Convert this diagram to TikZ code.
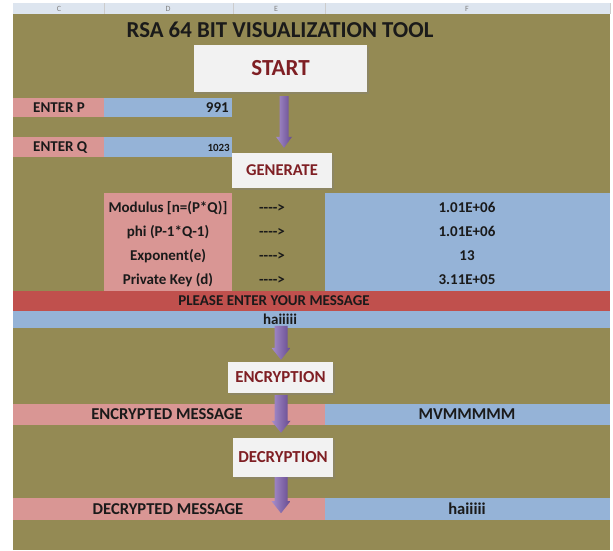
\documentclass[tikz,border=0pt]{standalone}
\usepackage{fontspec}
\setmainfont{Carlito}
\usetikzlibrary{arrows.meta,shadows,calc}
\definecolor{olivebg}{HTML}{948A54}
\definecolor{pinkc}{HTML}{D99694}
\definecolor{bluec}{HTML}{95B3D7}
\definecolor{redc}{HTML}{C0504D}
\definecolor{boxc}{HTML}{F2F2F2}
\definecolor{dred}{HTML}{7F1F24}
\definecolor{arrl}{HTML}{A68ECB}
\definecolor{arrd}{HTML}{664A8F}
\definecolor{headbg}{HTML}{DDE5EF}
\definecolor{txt}{HTML}{1A1A1A}
\newcommand{\fatarrow}[5]{%
  \shade[left color=arrl,right color=arrd]
    let \p1=(#1), \p2=(#2) in
    (\x1-#3,\y1) -- (\x1+#3,\y1) -- (\x1+#3,\y2+#5) -- (\x1+#4,\y2+#5) --
    (\x1,\y2) -- (\x1-#4,\y2+#5) -- (\x1-#3,\y2+#5) -- cycle;}
\newcommand{\dsh}{-\kern0pt-\kern0pt-\kern0pt-\kern0pt>}
\begin{document}
\begin{tikzpicture}[x=1pt,y=-1pt,
  ctext/.style={inner sep=0pt,text height=9.66pt,text depth=0pt,text=txt,font=\fontsize{15}{15}\selectfont\bfseries},
  big/.style={text height=10.7pt,font=\fontsize{16.6}{16.6}\selectfont\bfseries},
  stepbox/.style={fill=boxc,inner sep=0pt,text=dred,
    drop shadow={opacity=0.35,shadow xshift=1.5pt,shadow yshift=-1.5pt},
    text depth=0pt},
  colhead/.style={inner sep=0pt,text=gray,font=\fontsize{8}{8}\selectfont}]
\useasboundingbox (0,0) rectangle (613,550);
\fill[white] (0,0) rectangle (613,550);
% sheet header
\fill[headbg] (13,3) rectangle (610,14);
\draw[gray!50,line width=0.5pt] (13,14) -- (610,14);
\foreach \sx in {104,233,325,610} \draw[gray!40,line width=0.5pt] (\sx,3) -- (\sx,14);
\node[colhead] (hc) at (59,8.5) {C};
\node[colhead] (hd) at (168,8.5) {D};
\node[colhead] (he) at (276,8.5) {E};
\node[colhead] (hf) at (467,8.5) {F};
% background
\fill[olivebg] (13,14) rectangle (610,550);
% title
\node[ctext,text height=14.7pt,font=\fontsize{22.8}{23}\selectfont\bfseries] (title) at (280,30.5) {RSA 64 BIT VISUALIZATION TOOL};
% start box
\node[stepbox,minimum width=173pt,minimum height=47pt,text height=14.8pt,font=\fontsize{23}{23}\selectfont\bfseries] (start) at (280.5,68.5) {START};
% enter P / Q
\fill[pinkc] (13,98) rectangle (104,117);
\fill[bluec] (104,98) rectangle (232,117);
\fill[pinkc] (13,137) rectangle (104,157);
\fill[bluec] (104,137) rectangle (232,157);
\node[ctext,anchor=west] (ep) at (33,107.5) {ENTER P};
\node[ctext,anchor=east] (pv) at (229,107.5) {991};
\node[ctext,anchor=west] (eq) at (33,147) {ENTER Q};
\node[ctext,anchor=base east,font=\fontsize{11}{11}\selectfont\bfseries] (qv) at (230,151.8) {1023};
% generate box
\node[stepbox,minimum width=100pt,minimum height=35pt,text height=10.6pt,font=\fontsize{16.5}{16.5}\selectfont\bfseries] (gen) at (282,170.5) {GENERATE};
% key table
\fill[pinkc] (104,193) rectangle (232,291);
\fill[bluec] (325,193) rectangle (610,291);
\node[ctext] (l1) at (168,208) {Modulus [n=(P*Q)]};
\node[ctext] (l2) at (168,232) {phi (P-1*Q-1)};
\node[ctext] (l3) at (168,256) {Exponent(e)};
\node[ctext] (l4) at (168,280) {Private Key (d)};
\node[ctext] (a1) at (272,208) {\dsh};
\node[ctext] (a2) at (272,232) {\dsh};
\node[ctext] (a3) at (272,256) {\dsh};
\node[ctext] (a4) at (272,280) {\dsh};
\node[ctext] (v1) at (467,208) {1.01E+06};
\node[ctext] (v2) at (467,232) {1.01E+06};
\node[ctext] (v3) at (467,256) {13};
\node[ctext] (v4) at (467,280) {3.11E+05};
% message
\fill[redc] (13,291) rectangle (610,311);
\fill[bluec] (13,311) rectangle (610,328);
\node[ctext] (please) at (274,301) {PLEASE ENTER YOUR MESSAGE};
\node[ctext] (msg) at (280,319.5) {haiiiii};
% encryption
\node[stepbox,minimum width=105pt,minimum height=31pt,text height=10.8pt,font=\fontsize{16.8}{16.8}\selectfont\bfseries] (enc) at (280.5,377.5) {ENCRYPTION};
\fill[pinkc] (13,404) rectangle (325,425);
\fill[bluec] (325,404) rectangle (610,425);
\node[ctext,big] (encl) at (167,414.5) {ENCRYPTED MESSAGE};
\node[ctext,big] (encv) at (467,414.5) {MVMMMMM};
% decryption
\node[stepbox,minimum width=100pt,minimum height=39pt,text height=10.8pt,font=\fontsize{16.8}{16.8}\selectfont\bfseries] (dec) at (283,457.5) {DECRYPTION};
\fill[pinkc] (13,498) rectangle (325,520);
\fill[bluec] (325,498) rectangle (610,520);
\node[ctext,big] (decl) at (168,509) {DECRYPTED MESSAGE};
\node[ctext,big] (decv) at (467,509) {haiiiii};
% arrows
\fatarrow{[xshift=3.5pt,yshift=-4pt]start.south}{[xshift=2pt,yshift=5pt]gen.north}{4.5pt}{8pt}{11pt}
\fatarrow{[xshift=0.5pt,yshift=36pt]enc.north}{[xshift=0.5pt,yshift=2pt]enc.north}{6.5pt}{9.5pt}{12pt}
\fatarrow{[xshift=0.5pt,yshift=-2pt]enc.south}{[xshift=-2pt,yshift=5pt]dec.north}{6.5pt}{9.5pt}{12pt}
\fatarrow{[xshift=-2pt,yshift=0pt]dec.south}{[xshift=-2pt,yshift=-36pt]dec.south}{6.5pt}{9.5pt}{12pt}
\end{tikzpicture}
\end{document}
